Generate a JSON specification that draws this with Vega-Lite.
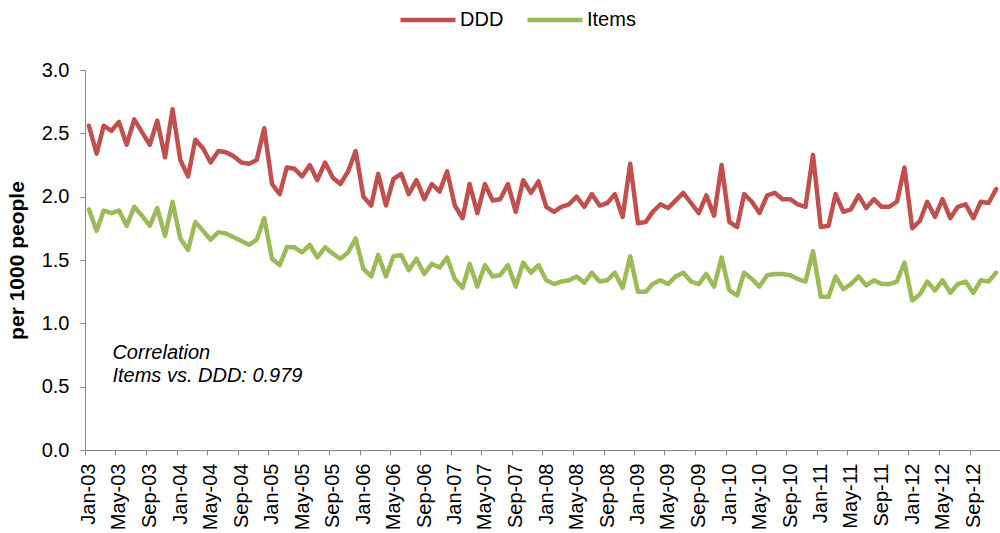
{
  "$schema": "https://vega.github.io/schema/vega-lite/v6.json",
  "width": 915,
  "height": 380,
  "autosize": "none",
  "padding": {"left": 85, "top": 70, "right": 0, "bottom": 83},
  "background": "white",
  "config": {"view": {"stroke": null}, "font": "Liberation Sans"},
  "layer": [
    {
      "data": {
        "values": [
          {"month": "2003-01-01", "DDD": 2.56, "Items": 1.90},
          {"month": "2003-02-01", "DDD": 2.34, "Items": 1.73},
          {"month": "2003-03-01", "DDD": 2.56, "Items": 1.89},
          {"month": "2003-04-01", "DDD": 2.52, "Items": 1.87},
          {"month": "2003-05-01", "DDD": 2.59, "Items": 1.89},
          {"month": "2003-06-01", "DDD": 2.41, "Items": 1.77},
          {"month": "2003-07-01", "DDD": 2.61, "Items": 1.92},
          {"month": "2003-08-01", "DDD": 2.51, "Items": 1.85},
          {"month": "2003-09-01", "DDD": 2.41, "Items": 1.77},
          {"month": "2003-10-01", "DDD": 2.60, "Items": 1.91},
          {"month": "2003-11-01", "DDD": 2.31, "Items": 1.69},
          {"month": "2003-12-01", "DDD": 2.69, "Items": 1.96},
          {"month": "2004-01-01", "DDD": 2.29, "Items": 1.67},
          {"month": "2004-02-01", "DDD": 2.16, "Items": 1.58},
          {"month": "2004-03-01", "DDD": 2.45, "Items": 1.80},
          {"month": "2004-04-01", "DDD": 2.38, "Items": 1.73},
          {"month": "2004-05-01", "DDD": 2.27, "Items": 1.66},
          {"month": "2004-06-01", "DDD": 2.36, "Items": 1.72},
          {"month": "2004-07-01", "DDD": 2.35, "Items": 1.71},
          {"month": "2004-08-01", "DDD": 2.32, "Items": 1.68},
          {"month": "2004-09-01", "DDD": 2.27, "Items": 1.65},
          {"month": "2004-10-01", "DDD": 2.26, "Items": 1.62},
          {"month": "2004-11-01", "DDD": 2.29, "Items": 1.66},
          {"month": "2004-12-01", "DDD": 2.54, "Items": 1.83},
          {"month": "2005-01-01", "DDD": 2.10, "Items": 1.51},
          {"month": "2005-02-01", "DDD": 2.02, "Items": 1.46},
          {"month": "2005-03-01", "DDD": 2.23, "Items": 1.60},
          {"month": "2005-04-01", "DDD": 2.22, "Items": 1.60},
          {"month": "2005-05-01", "DDD": 2.16, "Items": 1.56},
          {"month": "2005-06-01", "DDD": 2.25, "Items": 1.62},
          {"month": "2005-07-01", "DDD": 2.13, "Items": 1.52},
          {"month": "2005-08-01", "DDD": 2.27, "Items": 1.60},
          {"month": "2005-09-01", "DDD": 2.15, "Items": 1.55},
          {"month": "2005-10-01", "DDD": 2.10, "Items": 1.51},
          {"month": "2005-11-01", "DDD": 2.20, "Items": 1.56},
          {"month": "2005-12-01", "DDD": 2.36, "Items": 1.67},
          {"month": "2006-01-01", "DDD": 2.00, "Items": 1.43},
          {"month": "2006-02-01", "DDD": 1.93, "Items": 1.37},
          {"month": "2006-03-01", "DDD": 2.18, "Items": 1.54},
          {"month": "2006-04-01", "DDD": 1.93, "Items": 1.37},
          {"month": "2006-05-01", "DDD": 2.14, "Items": 1.53},
          {"month": "2006-06-01", "DDD": 2.18, "Items": 1.54},
          {"month": "2006-07-01", "DDD": 2.02, "Items": 1.42},
          {"month": "2006-08-01", "DDD": 2.13, "Items": 1.51},
          {"month": "2006-09-01", "DDD": 1.98, "Items": 1.39},
          {"month": "2006-10-01", "DDD": 2.10, "Items": 1.47},
          {"month": "2006-11-01", "DDD": 2.04, "Items": 1.44},
          {"month": "2006-12-01", "DDD": 2.20, "Items": 1.52},
          {"month": "2007-01-01", "DDD": 1.93, "Items": 1.35},
          {"month": "2007-02-01", "DDD": 1.83, "Items": 1.28},
          {"month": "2007-03-01", "DDD": 2.10, "Items": 1.47},
          {"month": "2007-04-01", "DDD": 1.87, "Items": 1.29},
          {"month": "2007-05-01", "DDD": 2.10, "Items": 1.46},
          {"month": "2007-06-01", "DDD": 1.97, "Items": 1.37},
          {"month": "2007-07-01", "DDD": 1.98, "Items": 1.38},
          {"month": "2007-08-01", "DDD": 2.10, "Items": 1.46},
          {"month": "2007-09-01", "DDD": 1.88, "Items": 1.29},
          {"month": "2007-10-01", "DDD": 2.13, "Items": 1.48},
          {"month": "2007-11-01", "DDD": 2.03, "Items": 1.40},
          {"month": "2007-12-01", "DDD": 2.12, "Items": 1.46},
          {"month": "2008-01-01", "DDD": 1.92, "Items": 1.34},
          {"month": "2008-02-01", "DDD": 1.88, "Items": 1.31},
          {"month": "2008-03-01", "DDD": 1.92, "Items": 1.33},
          {"month": "2008-04-01", "DDD": 1.94, "Items": 1.34},
          {"month": "2008-05-01", "DDD": 2.00, "Items": 1.37},
          {"month": "2008-06-01", "DDD": 1.92, "Items": 1.32},
          {"month": "2008-07-01", "DDD": 2.02, "Items": 1.40},
          {"month": "2008-08-01", "DDD": 1.93, "Items": 1.33},
          {"month": "2008-09-01", "DDD": 1.95, "Items": 1.34},
          {"month": "2008-10-01", "DDD": 2.02, "Items": 1.40},
          {"month": "2008-11-01", "DDD": 1.84, "Items": 1.28},
          {"month": "2008-12-01", "DDD": 2.26, "Items": 1.53},
          {"month": "2009-01-01", "DDD": 1.79, "Items": 1.25},
          {"month": "2009-02-01", "DDD": 1.80, "Items": 1.25},
          {"month": "2009-03-01", "DDD": 1.88, "Items": 1.31},
          {"month": "2009-04-01", "DDD": 1.94, "Items": 1.34},
          {"month": "2009-05-01", "DDD": 1.91, "Items": 1.31},
          {"month": "2009-06-01", "DDD": 1.97, "Items": 1.37},
          {"month": "2009-07-01", "DDD": 2.03, "Items": 1.40},
          {"month": "2009-08-01", "DDD": 1.95, "Items": 1.33},
          {"month": "2009-09-01", "DDD": 1.87, "Items": 1.31},
          {"month": "2009-10-01", "DDD": 2.01, "Items": 1.39},
          {"month": "2009-11-01", "DDD": 1.85, "Items": 1.29},
          {"month": "2009-12-01", "DDD": 2.25, "Items": 1.52},
          {"month": "2010-01-01", "DDD": 1.80, "Items": 1.26},
          {"month": "2010-02-01", "DDD": 1.76, "Items": 1.22},
          {"month": "2010-03-01", "DDD": 2.02, "Items": 1.40},
          {"month": "2010-04-01", "DDD": 1.96, "Items": 1.35},
          {"month": "2010-05-01", "DDD": 1.87, "Items": 1.29},
          {"month": "2010-06-01", "DDD": 2.01, "Items": 1.38},
          {"month": "2010-07-01", "DDD": 2.03, "Items": 1.39},
          {"month": "2010-08-01", "DDD": 1.98, "Items": 1.39},
          {"month": "2010-09-01", "DDD": 1.98, "Items": 1.38},
          {"month": "2010-10-01", "DDD": 1.94, "Items": 1.35},
          {"month": "2010-11-01", "DDD": 1.92, "Items": 1.33},
          {"month": "2010-12-01", "DDD": 2.33, "Items": 1.57},
          {"month": "2011-01-01", "DDD": 1.76, "Items": 1.21},
          {"month": "2011-02-01", "DDD": 1.77, "Items": 1.21},
          {"month": "2011-03-01", "DDD": 2.02, "Items": 1.37},
          {"month": "2011-04-01", "DDD": 1.88, "Items": 1.27},
          {"month": "2011-05-01", "DDD": 1.90, "Items": 1.31},
          {"month": "2011-06-01", "DDD": 2.01, "Items": 1.37},
          {"month": "2011-07-01", "DDD": 1.91, "Items": 1.30},
          {"month": "2011-08-01", "DDD": 1.98, "Items": 1.34},
          {"month": "2011-09-01", "DDD": 1.92, "Items": 1.31},
          {"month": "2011-10-01", "DDD": 1.92, "Items": 1.31},
          {"month": "2011-11-01", "DDD": 1.96, "Items": 1.33},
          {"month": "2011-12-01", "DDD": 2.23, "Items": 1.48},
          {"month": "2012-01-01", "DDD": 1.75, "Items": 1.18},
          {"month": "2012-02-01", "DDD": 1.81, "Items": 1.23},
          {"month": "2012-03-01", "DDD": 1.96, "Items": 1.33},
          {"month": "2012-04-01", "DDD": 1.84, "Items": 1.26},
          {"month": "2012-05-01", "DDD": 1.98, "Items": 1.34},
          {"month": "2012-06-01", "DDD": 1.83, "Items": 1.24},
          {"month": "2012-07-01", "DDD": 1.92, "Items": 1.31},
          {"month": "2012-08-01", "DDD": 1.94, "Items": 1.33},
          {"month": "2012-09-01", "DDD": 1.83, "Items": 1.24},
          {"month": "2012-10-01", "DDD": 1.96, "Items": 1.34},
          {"month": "2012-11-01", "DDD": 1.95, "Items": 1.33},
          {"month": "2012-12-01", "DDD": 2.06, "Items": 1.40}
        ]
      },
      "transform": [{"fold": ["DDD", "Items"], "as": ["series", "value"]}],
      "mark": {"type": "line", "strokeWidth": 4.5, "strokeJoin": "round", "strokeCap": "round"},
      "encoding": {
        "x": {
          "field": "month",
          "type": "temporal",
          "scale": {
            "type": "utc",
            "domain": [
              {"year": 2002, "month": 12, "date": 16, "hours": 12, "utc": true},
              {"year": 2012, "month": 12, "date": 16, "hours": 12, "utc": true}
            ]
          },
          "axis": {
            "title": null,
            "format": "%b-%y",
            "tickCount": {"interval": "month", "step": 4},
            "labelAngle": -90,
            "labelFontSize": 20,
            "labelColor": "#000000",
            "labelPadding": 8,
            "labelOverlap": false,
            "labelBound": false,
            "labelFlush": false,
            "tickOffset": -3.8,
            "labelOffset": 3.8,
            "tickSize": 5,
            "tickColor": "#868686",
            "domainColor": "#868686",
            "grid": false
          }
        },
        "y": {
          "field": "value",
          "type": "quantitative",
          "scale": {"domain": [0, 3]},
          "axis": {
            "title": "per 1000 people",
            "titleFontSize": 21,
            "titleFontWeight": "bold",
            "titleColor": "#000000",
            "titlePadding": 14,
            "values": [0, 0.5, 1, 1.5, 2, 2.5, 3],
            "format": ".1f",
            "labelFontSize": 20,
            "labelColor": "#000000",
            "labelPadding": 11,
            "tickSize": 5,
            "tickColor": "#868686",
            "domainColor": "#868686",
            "grid": false
          }
        },
        "color": {
          "field": "series",
          "type": "nominal",
          "scale": {"domain": ["DDD", "Items"], "range": ["#C0504D", "#9BBB59"]},
          "legend": {
            "title": null,
            "orient": "none",
            "legendX": 313,
            "legendY": -80,
            "direction": "horizontal",
            "padding": 0,
            "symbolType": "stroke",
            "symbolSize": 3025,
            "symbolStrokeWidth": 4.5,
            "labelFontSize": 20,
            "labelColor": "#000000",
            "labelOffset": 2,
            "columnPadding": 14
          }
        }
      }
    },
    {
      "data": {"values": [{}]},
      "mark": {
        "type": "text",
        "align": "left",
        "baseline": "alphabetic",
        "fontStyle": "italic",
        "fontSize": 20,
        "lineHeight": 23,
        "dx": 1,
        "color": "#000000",
        "text": ["Correlation", "Items vs. DDD: 0.979"]
      },
      "encoding": {
        "x": {"datum": {"year": 2003, "month": 4, "date": 1, "utc": true}, "type": "temporal"},
        "y": {"datum": 0.72, "type": "quantitative"}
      }
    }
  ]
}
